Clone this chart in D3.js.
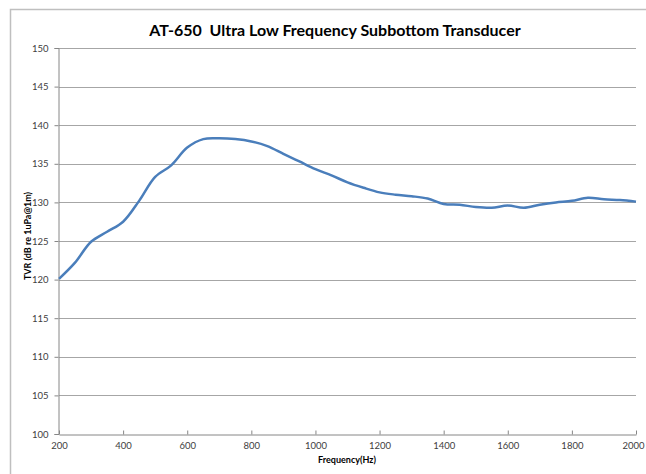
<!DOCTYPE html>
<html>
<head>
<meta charset="utf-8">
<script src="https://cdn.jsdelivr.net/npm/d3@7"></script>
<style>
  body { margin: 0; background: #fff; }
  svg { display: block; }
  .tick text { font-family: Lato, "Open Sans", sans-serif; font-size: 9.5px; fill: #404040; }
</style>
</head>
<body>
<div id="chart"></div>
<script>
// Frequency samples (Hz) and TVR readings (dB re 1uPa@1m).
var freqs = [200, 250, 300, 350, 400, 450, 500, 550, 600, 650, 700, 750, 800, 850, 900, 950,
             1000, 1050, 1100, 1150, 1200, 1250, 1300, 1350, 1400, 1450, 1500, 1550, 1600,
             1650, 1700, 1750, 1800, 1850, 1900, 1950, 2000];
var tvr = [120.1, 122.2, 124.9, 126.2, 127.5, 130.2, 133.3, 134.8, 137.1, 138.2, 138.3, 138.2,
           137.9, 137.3, 136.3, 135.3, 134.3, 133.5, 132.6, 131.9, 131.3, 131.0, 130.8, 130.5,
           129.8, 129.7, 129.4, 129.3, 129.6, 129.3, 129.7, 130.0, 130.2, 130.6, 130.4, 130.3, 130.1];
var xTicks = [200, 400, 600, 800, 1000, 1200, 1400, 1600, 1800, 2000];
var yTicks = [100, 105, 110, 115, 120, 125, 130, 135, 140, 145, 150];

var width = 646, height = 474;
var plotLeft = 59, plotRight = 636, plotTop = 48, plotBottom = 434;

var svg = d3.select("#chart").append("svg")
  .attr("width", width)
  .attr("height", height);

// Outer chart frame
svg.append("rect")
  .attr("x", 10.5).attr("y", 9.5)
  .attr("width", 700).attr("height", 600)
  .attr("fill", "#fff")
  .attr("stroke", "#bfbfbf")
  .attr("stroke-width", 1.5);

var xScale = d3.scaleLinear().domain([200, 2000]).range([plotLeft, plotRight]);
var yScale = d3.scaleLinear().domain([100, 150]).range([plotBottom, plotTop]);

// Horizontal gridlines
svg.append("g").selectAll("line")
  .data(yTicks.filter(function (v) { return v > 100; }))
  .enter().append("line")
  .attr("x1", plotLeft).attr("x2", plotRight)
  .attr("y1", function (v) { return Math.round(yScale(v)) + 0.5; })
  .attr("y2", function (v) { return Math.round(yScale(v)) + 0.5; })
  .attr("stroke", "#a6a6a6")
  .attr("stroke-width", 1);

// Axes
var xAxis = d3.axisBottom(xScale).tickValues(xTicks).tickFormat(d3.format("d"))
  .tickSizeInner(-4).tickSizeOuter(0).tickPadding(8);
var gx = svg.append("g")
  .attr("transform", "translate(0," + (plotBottom + 0.5) + ")")
  .call(xAxis);
// keep the last label inside the window
gx.selectAll(".tick text").filter(function (d) { return d === 2000; }).attr("dx", -3);
var yAxis = d3.axisLeft(yScale).tickValues(yTicks).tickFormat(d3.format("d"))
  .tickSize(4).tickPadding(6);
var gy = svg.append("g")
  .attr("transform", "translate(" + (plotLeft - 0.5) + ",0)")
  .call(yAxis);
[gx, gy].forEach(function (g) {
  g.selectAll("path, line").attr("stroke", "#868686");
});

// Data line
var line = d3.line()
  .x(function (d, i) { return xScale(freqs[i]); })
  .y(function (d) { return yScale(d); })
  .curve(d3.curveCatmullRom.alpha(0.5));
svg.append("path")
  .datum(tvr)
  .attr("d", line)
  .attr("fill", "none")
  .attr("stroke", "#4a7ebb")
  .attr("stroke-width", 2.5);

// Title
svg.append("text")
  .attr("x", 335).attr("y", 36)
  .attr("text-anchor", "middle")
  .attr("font-family", "Lato, 'Open Sans', sans-serif")
  .attr("font-weight", "bold")
  .attr("font-size", 16)
  .attr("fill", "#000")
  .style("white-space", "pre")
  .text("AT-650  Ultra Low Frequency Subbottom Transducer");

// Axis labels
svg.append("text")
  .attr("x", 347).attr("y", 463)
  .attr("text-anchor", "middle")
  .attr("font-family", "Lato, 'Open Sans', sans-serif")
  .attr("font-weight", "bold")
  .attr("font-size", 9)
  .text("Frequency(Hz)");
svg.append("text")
  .attr("transform", "translate(31,236)rotate(-90)")
  .attr("text-anchor", "middle")
  .attr("font-family", "Lato, 'Open Sans', sans-serif")
  .attr("font-weight", "bold")
  .attr("font-size", 9)
  .text("TVR (dB re 1uPa@1m)");
</script>
</body>
</html>
